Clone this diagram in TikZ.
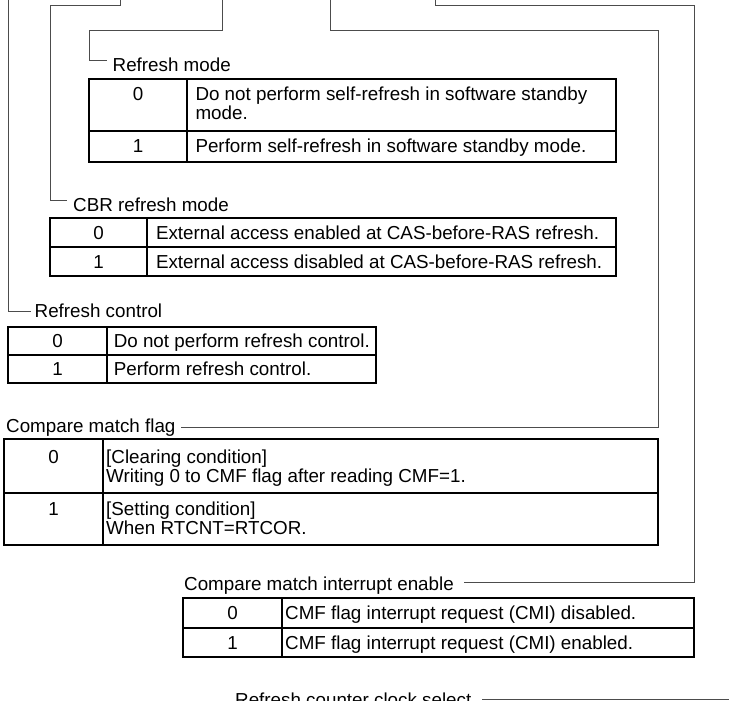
\documentclass[tikz,border=0pt]{standalone}
\usepackage{fontspec}
\setmainfont{Liberation Sans}
\begin{document}
\begin{tikzpicture}[x=1pt,y=-1pt,
  conn/.style={draw=black!70, line width=1pt},
  tline/.style={draw=black, line width=1.4pt},
  txt/.style={inner sep=0pt, font=\fontsize{18.8}{18}\selectfont, anchor=base west},
  num/.style={inner sep=0pt, font=\fontsize{18.8}{18}\selectfont, anchor=base},
  lbl/.style={inner sep=0pt, font=\fontsize{18.8}{18}\selectfont, anchor=west, text depth=0pt},
]
\useasboundingbox (0,0) rectangle (729,701);

% ---------- top ends of connectors ----------
\coordinate (tRC)  at (8,0);
\coordinate (tCBR) at (120,0);
\coordinate (cCBR) at (50,6);
\coordinate (tRM)  at (222,0);
\coordinate (cRM)  at (89,31);
\coordinate (tCMF) at (330,0);
\coordinate (cCMF) at (658,31);
\coordinate (tCMI) at (435,0);
\coordinate (cCMI) at (694,6);
\coordinate (tRCS) at (729,699);

% ---------- labels ----------
\node[lbl, text height=22pt] (lRM)  at (112.5,61)  {Refresh mode};
\node[lbl, text height=22pt] (lCBR) at (73,200)    {CBR refresh mode};
\node[lbl, text height=13pt] (lRC)  at (34.5,311)  {Refresh control};
\node[lbl, text height=10pt] (lCMF) at (6,427)     {Compare match flag};
\node[lbl, text height=17pt] (lCMI) at (184,582)   {Compare match interrupt enable};
\node[lbl, text height=14pt] (lRCS) at (235,699)   {Refresh counter clock select};

% ---------- connectors ----------
\draw[conn] (tRC) |- ([xshift=-4pt]lRC.west);
\draw[conn] (tCBR) |- (cCBR) |- ([xshift=-6pt]lCBR.west);
\draw[conn] (tRM) |- (cRM) |- ([xshift=-6pt]lRM.west);
\draw[conn] (tCMF) |- (cCMF) |- ([xshift=5pt]lCMF.east);
\draw[conn] (tCMI) |- (cCMI) |- ([xshift=10pt]lCMI.east);
\draw[conn] (tRCS) -- ([xshift=10pt]lRCS.east);

% ---------- table: Refresh mode ----------
\draw[tline] (89,79) rectangle (616,162);
\draw[tline] (187,79) -- (187,162);
\draw[tline] (89,131) -- (616,131);
\node[num] (rm0)  at (138,100.5) {0};
\node[txt] (rm0a) at (195.3,100.5) {Do not perform self-refresh in software standby};
\node[txt] (rm0b) at (195.3,119.5) {mode.};
\node[num] (rm1)  at (138,153) {1};
\node[txt] (rm1a) at (195.3,153) {Perform self-refresh in software standby mode.};

% ---------- table: CBR refresh mode ----------
\draw[tline] (50,218) rectangle (616,276);
\draw[tline] (147,218) -- (147,276);
\draw[tline] (50,247) -- (616,247);
\node[num] (cb0)  at (98.5,239.1) {0};
\node[txt] (cb0a) at (155.8,239.1) {External access enabled at CAS-before-RAS refresh.};
\node[num] (cb1)  at (98.5,268.1) {1};
\node[txt] (cb1a) at (155.8,268.1) {External access disabled at CAS-before-RAS refresh.};

% ---------- table: Refresh control ----------
\draw[tline] (8,327) rectangle (376,383);
\draw[tline] (107,327) -- (107,383);
\draw[tline] (8,355) -- (376,355);
\node[num] (rc0)  at (57.5,347.6) {0};
\node[txt] (rc0a) at (113.6,347.6) {Do not perform refresh control.};
\node[num] (rc1)  at (57.5,375.6) {1};
\node[txt] (rc1a) at (113.6,375.6) {Perform refresh control.};

% ---------- table: Compare match flag ----------
\draw[tline] (4,439) rectangle (658,545);
\draw[tline] (103,439) -- (103,545);
\draw[tline] (4,493) -- (658,493);
\node[num] (cf0)  at (53.5,463) {0};
\node[txt] (cf0a) at (106,463) {[Clearing condition]};
\node[txt] (cf0b) at (106,482) {Writing 0 to CMF flag after reading CMF=1.};
\node[num] (cf1)  at (53.5,515.5) {1};
\node[txt] (cf1a) at (106,515.5) {[Setting condition]};
\node[txt] (cf1b) at (106,534.5) {When RTCNT=RTCOR.};

% ---------- table: Compare match interrupt enable ----------
\draw[tline] (183,598) rectangle (694,657);
\draw[tline] (282,598) -- (282,657);
\draw[tline] (183,628) -- (694,628);
\node[num] (ci0)  at (232.5,619.6) {0};
\node[txt] (ci0a) at (285,619.6) {CMF flag interrupt request (CMI) disabled.};
\node[num] (ci1)  at (232.5,649) {1};
\node[txt] (ci1a) at (285,649) {CMF flag interrupt request (CMI) enabled.};
\end{tikzpicture}
\end{document}
